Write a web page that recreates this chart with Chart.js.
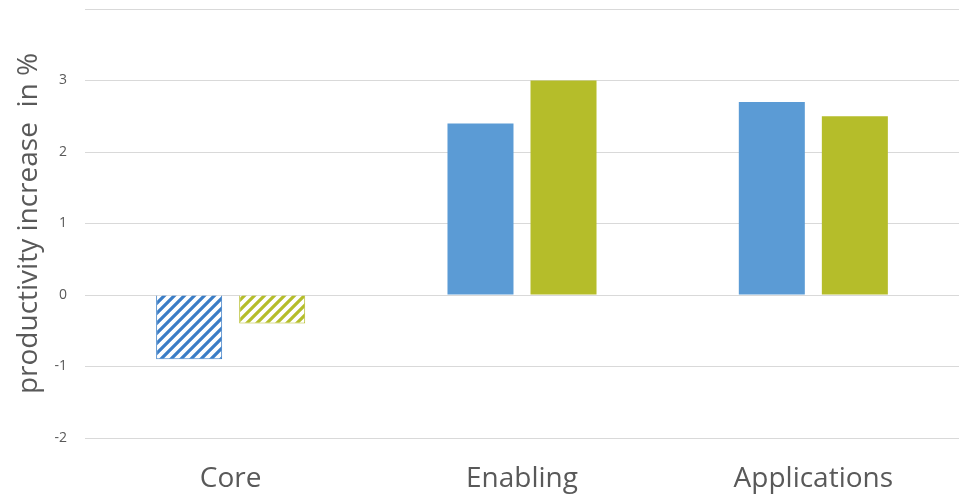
<!DOCTYPE html>
<html><head><meta charset="utf-8">
<script src="https://cdn.jsdelivr.net/npm/chart.js@4/dist/chart.umd.min.js"></script>
<style>html,body{margin:0;padding:0;background:#fff;}#wrap{width:961px;height:496px;}</style>
</head><body><div id="wrap"><canvas id="c"></canvas></div>
<script>
const categories = ["Core", "Enabling", "Applications"];
const seriesA = [-0.9, 2.4, 2.7];
const seriesB = [-0.4, 3.0, 2.5];
const yTicks = [-2, -1, 0, 1, 2, 3];
const hatched = [true, false, false];

function stripes(color, bg) {
  const s = 10;
  const cv = document.createElement('canvas');
  cv.width = s; cv.height = s;
  const g = cv.getContext('2d');
  g.fillStyle = bg; g.fillRect(0, 0, s, s);
  g.strokeStyle = color; g.lineWidth = 3.2; g.lineCap = 'square';
  g.beginPath();
  g.moveTo(-s, s * 2); g.lineTo(s * 2, -s);
  g.moveTo(-s, s); g.lineTo(s, -s);
  g.moveTo(0, s * 2); g.lineTo(s * 2, 0);
  g.stroke();
  return g.createPattern(cv, 'repeat');
}
const ctx = document.getElementById('c').getContext('2d');
const blue = '#5B9BD5', green = '#B5BD2A';
const blueH = stripes('#3A7DC6', '#fff'), greenH = stripes('#B5BD2A', '#fff');
const FONT = '"Open Sans", sans-serif';

new Chart(ctx, {
  type: 'bar',
  data: {
    labels: categories,
    datasets: [
      { data: seriesA, backgroundColor: hatched.map(h => h ? blueH : blue),
        borderColor: hatched.map(h => h ? '#3A7DC6' : blue), borderWidth: hatched.map(h => h ? 1 : 0),
        categoryPercentage: 0.57, barPercentage: 0.795 },
      { data: seriesB, backgroundColor: hatched.map(h => h ? greenH : green),
        borderColor: green, borderWidth: hatched.map(h => h ? 1 : 0),
        categoryPercentage: 0.57, barPercentage: 0.795 }
    ]
  },
  options: {
    responsive: true, maintainAspectRatio: false, animation: false,
    layout: { padding: { top: 9, right: 2, left: 0, bottom: 0 } },
    plugins: { legend: { display: false }, tooltip: { enabled: false } },
    scales: {
      x: {
        grid: { display: false, drawTicks: false }, border: { display: false },
        ticks: { color: '#595959', font: { family: FONT, size: 28 }, padding: 24 },
        afterFit: s => { s.height = 58; }
      },
      y: {
        min: -2, max: 4,
        afterBuildTicks: s => { s.ticks = [...yTicks, 4].map(v => ({ value: v })); },
        grid: { color: '#D9D9D9', lineWidth: 1, drawTicks: false },
        border: { display: false },
        ticks: { color: '#595959', font: { family: FONT, size: 14 }, padding: 18,
          callback: v => yTicks.includes(v) ? String(v) : '' },
        title: { display: true, text: 'productivity increase  in %', color: '#595959',
          font: { family: FONT, size: 28 }, padding: { top: 12, bottom: 0 } },
        afterFit: s => { s.width = 85; s.paddingTop = 0; s.paddingBottom = 0; }
      }
    }
  }
});
</script></body></html>
